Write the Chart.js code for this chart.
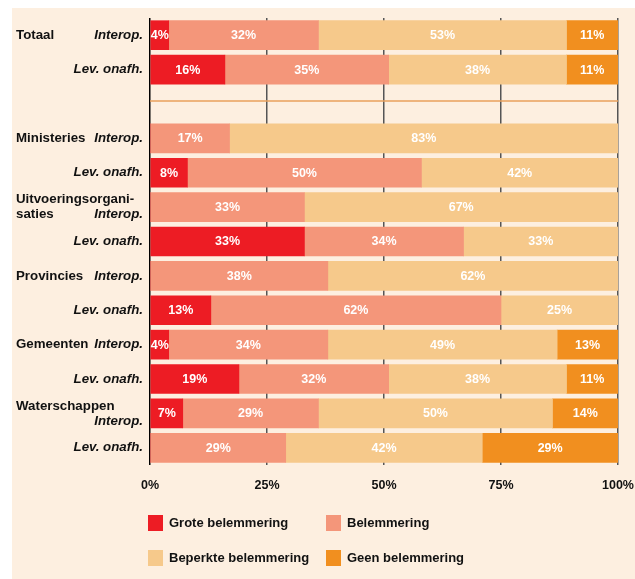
<!DOCTYPE html>
<html>
<head>
<meta charset="utf-8">
<script src="https://cdn.jsdelivr.net/npm/chart.js@4.4.0/dist/chart.umd.min.js"></script>
<style>
  body { margin: 0; background: #ffffff; }
  #paneel { position: absolute; left: 12px; top: 8px; width: 623px; height: 571px; background: #fdefe0; }
  #wrap { position: absolute; left: 0; top: 0; width: 635px; height: 579px; }
</style>
</head>
<body>
<div id="paneel"></div>
<div id="wrap"><canvas id="grafiek" width="635" height="579"></canvas></div>
<script>
// rijen (lege rij tussen Totaal en de rest)
var groepen = [["Totaal"], [""], [""], ["Ministeries"], [""], ["Uitvoeringsorgani-", "saties"], [""],
  ["Provincies"], [""], ["Gemeenten"], [""], ["Waterschappen", ""], [""]];
var soorten = [["Interop."], ["Lev. onafh."], [""], ["Interop."], ["Lev. onafh."], ["", "Interop."], ["Lev. onafh."],
  ["Interop."], ["Lev. onafh."], ["Interop."], ["Lev. onafh."], ["", "Interop."], ["Lev. onafh."]];

var reeksen = ["Grote belemmering", "Belemmering", "Beperkte belemmering", "Geen belemmering"];
var kleuren = ["#ed1c24", "#f4967a", "#f6c98b", "#f18f1f"];

var groot    = [4, 16, null, 0, 8, 0, 33, 0, 13, 4, 19, 7, 0];
var belem    = [32, 35, null, 17, 50, 33, 34, 38, 62, 34, 32, 29, 29];
var beperkt  = [53, 38, null, 83, 42, 67, 33, 62, 25, 49, 38, 50, 42];
var geen     = [11, 11, null, 0, 0, 0, 0, 0, 0, 13, 11, 14, 29];

var xTicks = [0, 25, 50, 75, 100];
var legePlek = 2;

var labels = groepen.map(function (g, i) { return "r" + i; });

var tekstPlugin = {
  id: "tekst",
  beforeDatasetsDraw: function (chart) {
    var c = chart.ctx;
    var ca = chart.chartArea;
    var y = chart.scales.y.getPixelForValue(legePlek) - 3;
    c.save();
    c.strokeStyle = "#e9a05c";
    c.lineWidth = 1.5;
    c.beginPath();
    c.moveTo(ca.left, y);
    c.lineTo(ca.right, y);
    c.stroke();
    c.restore();
  },
  afterDraw: function (chart) {
    var c = chart.ctx;
    var ys = chart.scales.y;
    c.save();
    c.textBaseline = "middle";
    c.fillStyle = "#111";
    for (var i = 0; i < labels.length; i++) {
      var yc = ys.getPixelForValue(i);
      var twee = groepen[i].length > 1 || soorten[i].length > 1;
      var regels = function (j) { return twee ? yc - 7.5 + j * 15 : yc; };
      c.font = "bold 13.3px 'Liberation Sans', Arial, sans-serif";
      c.textAlign = "left";
      groepen[i].forEach(function (t, j) { c.fillText(t, 16, regels(j)); });
      c.font = "italic bold 13.3px 'Liberation Sans', Arial, sans-serif";
      c.textAlign = "right";
      soorten[i].forEach(function (t, j) { c.fillText(t, 143, regels(j)); });
    }
    // waarden in de balken
    c.font = "bold 12.5px 'Liberation Sans', Arial, sans-serif";
    c.textAlign = "center";
    c.fillStyle = "#ffffff";
    chart.data.datasets.forEach(function (ds, d) {
      chart.getDatasetMeta(d).data.forEach(function (bar, i) {
        var v = ds.data[i];
        if (!v) return;
        var p = bar.getProps(["x", "base", "y"], true);
        c.fillText(v + "%", (p.x + p.base) / 2, p.y + 0.5);
      });
    });
    // legenda
    var pos = [[148, 523], [326, 523], [148, 558], [326, 558]];
    c.font = "bold 13px 'Liberation Sans', Arial, sans-serif";
    c.textAlign = "left";
    reeksen.forEach(function (naam, k) {
      c.fillStyle = kleuren[k];
      c.fillRect(pos[k][0], pos[k][1] - 8, 15, 16);
      c.fillStyle = "#111";
      c.fillText(naam, pos[k][0] + 21, pos[k][1]);
    });
    c.restore();
  }
};

var data = [groot, belem, beperkt, geen];

new Chart(document.getElementById("grafiek"), {
  type: "bar",
  data: {
    labels: labels,
    datasets: reeksen.map(function (naam, k) {
      return {
        label: naam,
        data: data[k],
        backgroundColor: kleuren[k],
        borderWidth: 0,
        barThickness: 29
      };
    })
  },
  options: {
    indexAxis: "y",
    responsive: false,
    animation: false,
    layout: { padding: { left: 150, right: 0, top: 18, bottom: 0 } },
    plugins: { legend: { display: false }, tooltip: { enabled: false } },
    scales: {
      x: {
        stacked: true,
        min: 0,
        max: 100,
        afterBuildTicks: function (s) { s.ticks = xTicks.map(function (v) { return { value: v }; }); },
        afterFit: function (s) { s.height = 114; s.paddingRight = 17; },
        border: { display: false },
        grid: {
          color: function (ctx) { return ctx.tick && ctx.tick.value === 0 ? "#000" : "#555"; },
          lineWidth: 1.5,
          drawTicks: false
        },
        ticks: {
          padding: 13,
          color: "#111",
          font: { family: "'Liberation Sans', Arial, sans-serif", size: 12.5, weight: "bold" },
          callback: function (v) { return v + "%"; }
        }
      },
      y: {
        stacked: true,
        display: false
      }
    }
  },
  plugins: [tekstPlugin]
});
</script>
</body>
</html>
